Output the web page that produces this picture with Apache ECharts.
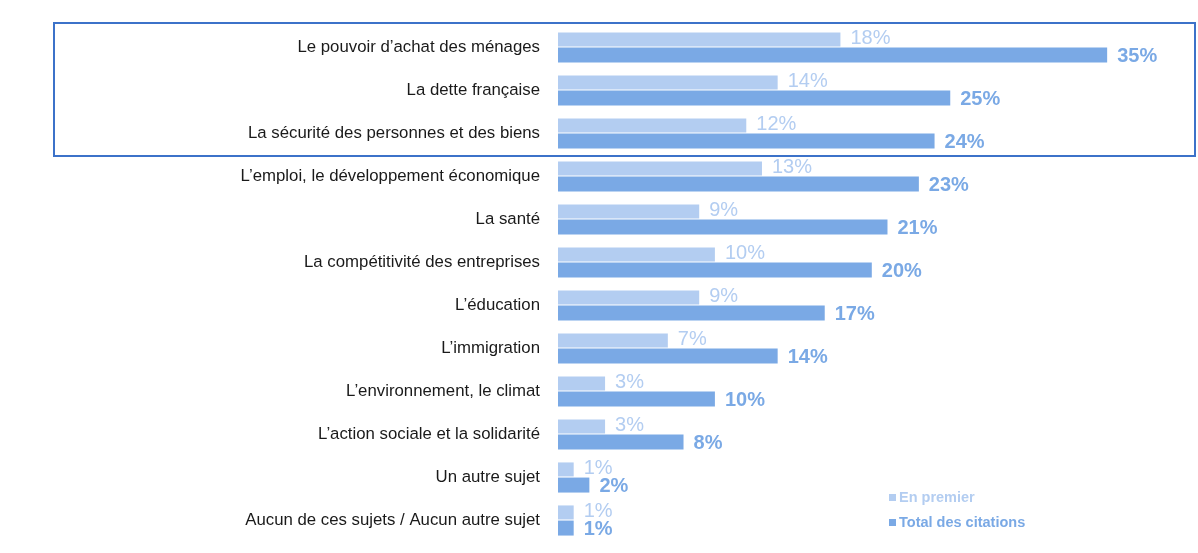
<!DOCTYPE html>
<html><head><meta charset="utf-8">
<script src="https://cdn.jsdelivr.net/npm/echarts@6/dist/echarts.min.js"></script>
<style>html,body{margin:0;padding:0;background:#fff}#c{width:1198px;height:553px}</style>
</head><body><div id="c"></div>
<script>
const categories = [
  "Le pouvoir d’achat des ménages",
  "La dette française",
  "La sécurité des personnes et des biens",
  "L’emploi, le développement économique",
  "La santé",
  "La compétitivité des entreprises",
  "L’éducation",
  "L’immigration",
  "L’environnement, le climat",
  "L’action sociale et la solidarité",
  "Un autre sujet",
  "Aucun de ces sujets / Aucun autre sujet"
];
const enPremier = [18, 14, 12, 13, 9, 10, 9, 7, 3, 3, 1, 1];
const totalCitations = [35, 25, 24, 23, 21, 20, 17, 14, 10, 8, 2, 1];
const seriesNames = ["En premier", "Total des citations"];

const LIGHT = '#b3cdf1', DARK = '#7aa9e5';
const NARROW = '"Liberation Sans Narrow", "Arial Narrow", sans-serif';
const chart = echarts.init(document.getElementById('c'));
chart.setOption({
  animation: false,
  textStyle: {fontFamily: 'Liberation Sans, Arial, sans-serif'},
  grid: {left: 558, right: 12.4, top: 26, bottom: 11},
  xAxis: {type: 'value', min: 0, max: 40, show: false},
  yAxis: {
    type: 'category', data: categories, inverse: true,
    axisLine: {show: false}, axisTick: {show: false},
    axisLabel: {color: '#1a1a1a', fontSize: 16.8, margin: 18}
  },
  legend: {
    orient: 'vertical', left: 884, top: 485, itemWidth: 7, itemHeight: 7, itemGap: 10,
    icon: 'rect',
    data: [
      {name: seriesNames[0], textStyle: {color: LIGHT}},
      {name: seriesNames[1], textStyle: {color: DARK}}
    ],
    textStyle: {fontSize: 14.5, fontWeight: 'bold', padding: [0,0,0,-2]}
  },
  series: [
    {
      name: seriesNames[0], type: 'bar', data: enPremier,
      itemStyle: {color: LIGHT}, barWidth: 14, barGap: '8%', barCategoryGap: '30%',
      label: {show: true, position: 'right', distance: 10, formatter: '{c}%', color: LIGHT,
        fontFamily: NARROW, fontSize: 20, fontWeight: 'normal', offset: [0, -1]}
    },
    {
      name: seriesNames[1], type: 'bar', data: totalCitations,
      itemStyle: {color: DARK}, barWidth: 15,
      label: {show: true, position: 'right', distance: 10, formatter: '{c}%', color: DARK,
        fontFamily: NARROW, fontSize: 20, fontWeight: 'bold', offset: [0, 1]}
    }
  ],
  graphic: [{
    type: 'rect', shape: {x: 54, y: 23, width: 1141, height: 133},
    style: {fill: 'none', stroke: '#3c72c9', lineWidth: 2}
  }]
});
</script></body></html>
